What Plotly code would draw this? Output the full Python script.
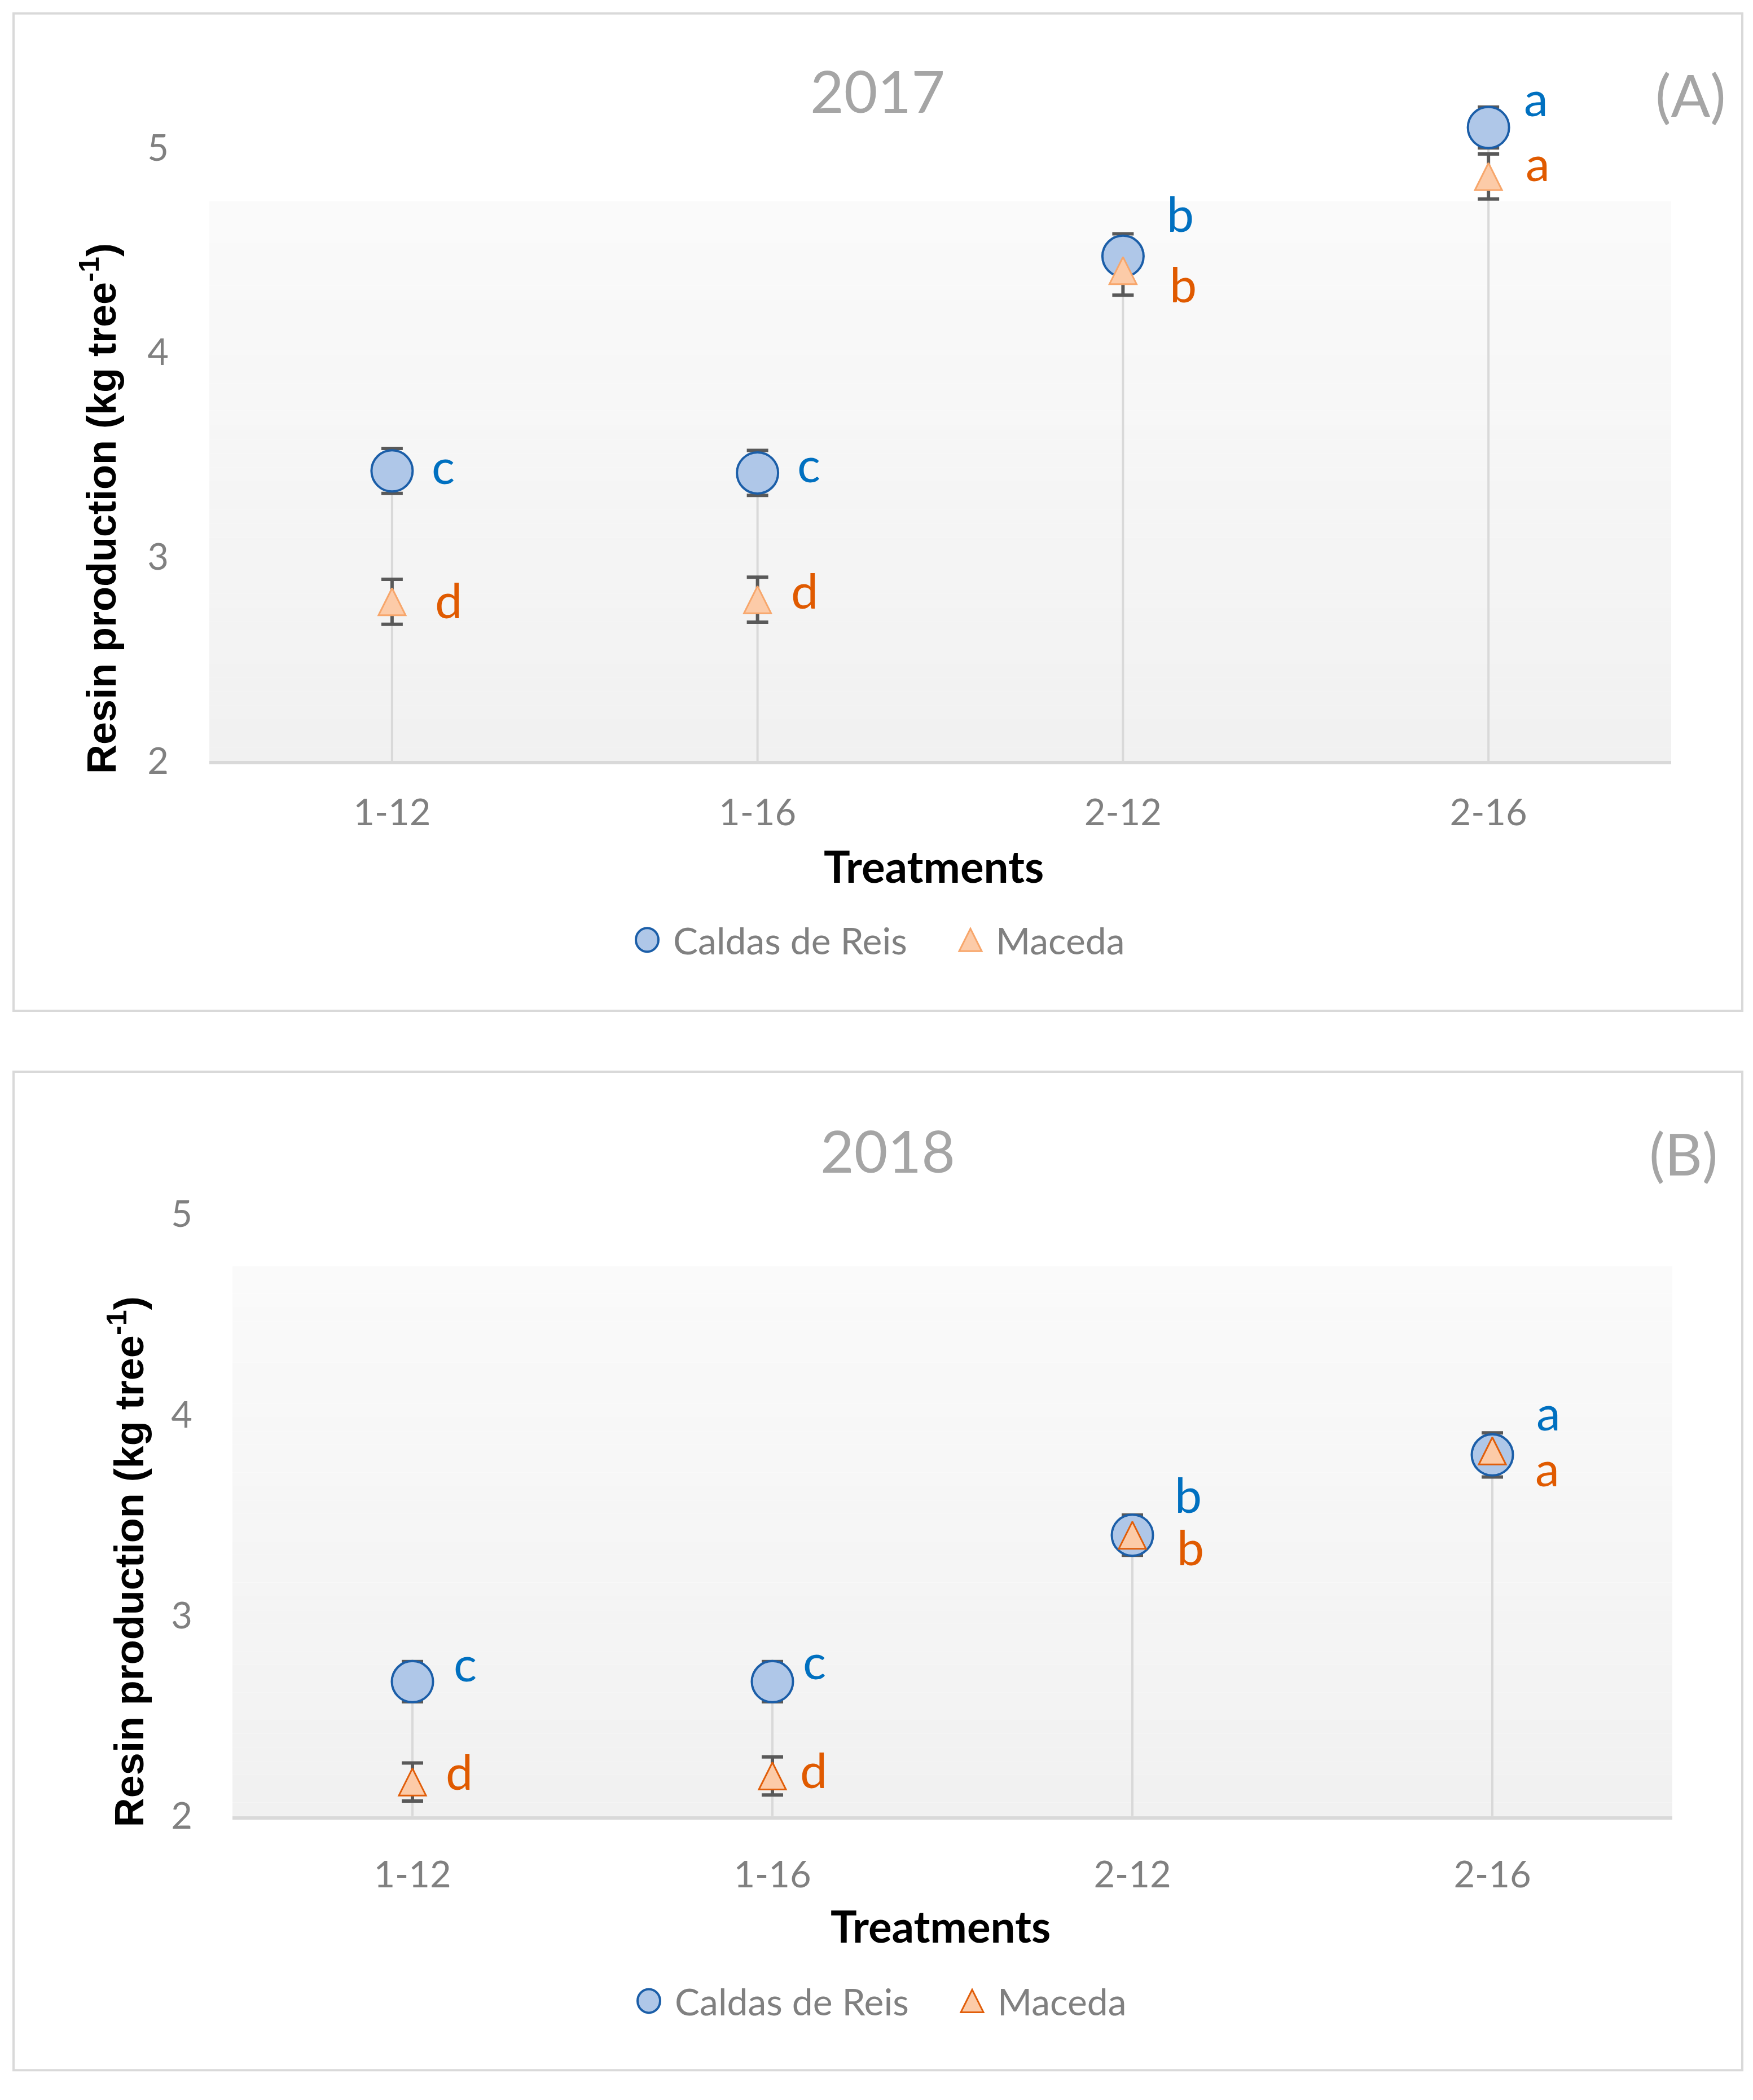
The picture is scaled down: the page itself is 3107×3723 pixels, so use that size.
import plotly.graph_objects as go

# ---------------- data ----------------
treatments = ["1-12", "1-16", "2-12", "2-16"]

caldas_2017 = [3.42, 3.41, 4.47, 5.10]
caldas_2017_err = [0.11, 0.11, 0.11, 0.10]
maceda_2017 = [2.78, 2.79, 4.40, 4.86]
maceda_2017_err = [0.11, 0.11, 0.12, 0.11]

caldas_2018 = [2.67, 2.67, 3.40, 3.80]
caldas_2018_err = [0.10, 0.10, 0.10, 0.11]
maceda_2018 = [2.17, 2.20, 3.40, 3.82]
maceda_2018_err = [0.095, 0.095, 0.05, 0.05]

caldas_letters_2017 = ["c", "c", "b", "a"]
maceda_letters_2017 = ["d", "d", "b", "a"]
caldas_letters_2018 = ["c", "c", "b", "a"]
maceda_letters_2018 = ["d", "d", "b", "a"]

y_ticks = [2, 3, 4, 5]
y_range = [2, 5.21]
series_names = ["Caldas de Reis", "Maceda"]
panel_titles = ["2017", "2018"]
panel_tags = ["(A)", "(B)"]
x_title = "Treatments"
y_title = "<b>Resin production (kg tree<sup>-1</sup>)</b>"

# ---------------- style ----------------
W, H = 3107, 3723


def px(x):
    return x / W


def py(y):
    return 1 - y / H


CAL_FILL = "#afc7e8"
CAL_LINE = "#1b5ea8"
MAC_FILL = "#fccba8"
MAC_LINE_TOP = "#f7a66b"
MAC_LINE_BOT = "#e15e0a"
BLUE_TXT = "#0070c0"
ORANGE_TXT = "#e05a00"
GRAY_TXT = "#808080"
TITLE_GRAY = "#a5a5a5"
ERR_COL = "#595959"
DROP_COL = "#d9d9d9"
BORDER_COL = "#d9d9d9"
FONT = "Lato"

panels = [
    dict(
        xa="x", ya="y", xdom=[px(371), px(2962)], ydom=[py(1363), py(188)],
        cal=caldas_2017, cal_err=caldas_2017_err, mac=maceda_2017, mac_err=maceda_2017_err,
        cal_lbl=caldas_letters_2017, mac_lbl=maceda_letters_2017,
        cal_off=[(91, 1), (91, -6), (102, -75), (84, -42)],
        mac_off=[(100, -2), (83, -16), (107, 25), (87, -14)],
        mac_line=MAC_LINE_TOP,
        title_xy=(1555, 162), tag_xy=(2996, 169),
        xtitle_xy=(1655, 1550), ytitle_xy=(175, 911),
        leg_y=1683, leg_x=(1147, 1191, 1720, 1763),
        border=(24, 24, 3088, 1810), ticklen_x=30, ticklen_y=58,
    ),
    dict(
        xa="x2", ya="y2", xdom=[px(412), px(2964)], ydom=[py(3252), py(2098.6)],
        cal=caldas_2018, cal_err=caldas_2018_err, mac=maceda_2018, mac_err=maceda_2018_err,
        cal_lbl=caldas_letters_2018, mac_lbl=maceda_letters_2018,
        cal_off=[(93, -23), (74, -27), (99, -71), (99, -66)],
        mac_off=[(83, -18), (73, -10), (103, 22), (97, 40)],
        mac_line=MAC_LINE_BOT,
        title_xy=(1573, 2059), tag_xy=(2984, 2065),
        xtitle_xy=(1667, 3448), ytitle_xy=(223, 2797),
        leg_y=3583, leg_x=(1150, 1194, 1723, 1766),
        border=(24, 1919, 3088, 3707), ticklen_x=42, ticklen_y=57,
    ),
]

fig = go.Figure()
annotations = []
shapes = []

for i, p in enumerate(panels):
    xa, ya = p["xa"], p["ya"]
    # drop lines from the axis floor up to the highest point of each treatment
    dx, dy = [], []
    for t, a, b in zip(treatments, p["cal"], p["mac"]):
        dx += [t, t, None]
        dy += [y_range[0], max(a, b), None]
    fig.add_trace(go.Scatter(x=dx, y=dy, mode="lines", xaxis=xa, yaxis=ya,
                             line=dict(color=DROP_COL, width=4),
                             hoverinfo="skip", showlegend=False))
    # error bars (drawn beneath all markers)
    for vals, errs in ((p["cal"], p["cal_err"]), (p["mac"], p["mac_err"])):
        fig.add_trace(go.Scatter(
            x=treatments, y=vals, mode="markers", xaxis=xa, yaxis=ya,
            marker=dict(size=2, opacity=0),
            error_y=dict(type="data", array=errs, visible=True, color=ERR_COL,
                         thickness=6, width=19),
            hoverinfo="skip", showlegend=False))
    # markers
    fig.add_trace(go.Scatter(
        x=treatments, y=p["cal"], mode="markers", xaxis=xa, yaxis=ya,
        name=series_names[0], showlegend=False,
        marker=dict(symbol="circle", size=73, color=CAL_FILL,
                    line=dict(color=CAL_LINE, width=4))))
    fig.add_trace(go.Scatter(
        x=treatments, y=p["mac"], mode="markers", xaxis=xa, yaxis=ya,
        name=series_names[1], showlegend=False,
        marker=dict(symbol="arrow-down", angle=180, standoff=24, size=48,
                    color=MAC_FILL, line=dict(color=p["mac_line"], width=3))))

    # letter labels
    for vals, lbls, offs, col in ((p["cal"], p["cal_lbl"], p["cal_off"], BLUE_TXT),
                                  (p["mac"], p["mac_lbl"], p["mac_off"], ORANGE_TXT)):
        for t, v, l, (ox, oy) in zip(treatments, vals, lbls, offs):
            corr = 11 if l in ("a", "c") else 2
            annotations.append(dict(
                x=t, y=v, xref=xa, yref=ya, text=l, showarrow=False,
                xanchor="center", yanchor="middle", xshift=ox, yshift=-oy + corr,
                font=dict(family=FONT, size=86, color=col)))

    # background gradient (light grey towards the floor)
    n = 40
    top_v = 4.74
    for k in range(n):
        v0 = y_range[0] + (top_v - y_range[0]) * k / n
        v1 = y_range[0] + (top_v - y_range[0]) * (k + 1) / n
        g = round(241 + (250 - 241) * k / (n - 1))
        shapes.append(dict(type="rect", xref=f"{xa} domain", yref=ya,
                           x0=0, x1=1, y0=v0, y1=v1, layer="below",
                           line=dict(width=0),
                           fillcolor=f"rgb({g},{g},{g})"))

    # panel border
    bx0, by0, bx1, by1 = p["border"]
    shapes.append(dict(type="rect", xref="paper", yref="paper",
                       x0=px(bx0), x1=px(bx1), y0=py(by1), y1=py(by0),
                       line=dict(color=BORDER_COL, width=4), fillcolor="rgba(0,0,0,0)"))

    # titles
    annotations.append(dict(x=px(p["title_xy"][0]), y=py(p["title_xy"][1]), xref="paper", yref="paper",
                            text=panel_titles[i], showarrow=False, xanchor="center", yanchor="middle",
                            font=dict(family=FONT, size=103, color=TITLE_GRAY)))
    annotations.append(dict(x=px(p["tag_xy"][0]), y=py(p["tag_xy"][1]), xref="paper", yref="paper",
                            text=panel_tags[i], showarrow=False, xanchor="center", yanchor="middle",
                            font=dict(family=FONT, size=103, color=TITLE_GRAY)))
    annotations.append(dict(x=px(p["xtitle_xy"][0]), y=py(p["xtitle_xy"][1]), xref="paper", yref="paper",
                            text=f"<b>{x_title}</b>", showarrow=False, xanchor="center", yanchor="middle",
                            font=dict(family=FONT, size=78, color="#000000")))
    annotations.append(dict(x=px(p["ytitle_xy"][0]), y=py(p["ytitle_xy"][1]), xref="paper", yref="paper",
                            text=y_title, showarrow=False, xanchor="center", yanchor="middle",
                            textangle=-90,
                            font=dict(family="Liberation Sans", size=72, color="#000000")))

    # legend (drawn by hand so the symbols keep their real size)
    cx, tx, trx, ttx = p["leg_x"]
    ly = py(p["leg_y"])
    shapes.append(dict(type="circle", xref="paper", yref="paper",
                       xsizemode="pixel", ysizemode="pixel",
                       xanchor=px(cx), yanchor=ly, x0=-20, x1=20, y0=-21, y1=21,
                       fillcolor=CAL_FILL, line=dict(color=CAL_LINE, width=4)))
    shapes.append(dict(type="path", xref="paper", yref="paper",
                       xsizemode="pixel", ysizemode="pixel",
                       xanchor=px(trx), yanchor=ly,
                       path="M-20,-20 L20,-20 L0,20 Z",
                       fillcolor=MAC_FILL, line=dict(color=p["mac_line"], width=3)))
    annotations.append(dict(x=px(tx), y=ly, xref="paper", yref="paper", text=series_names[0],
                            showarrow=False, xanchor="left", yanchor="middle",
                            font=dict(family=FONT, size=66, color=GRAY_TXT)))
    annotations.append(dict(x=px(ttx), y=ly, xref="paper", yref="paper", text=series_names[1],
                            showarrow=False, xanchor="left", yanchor="middle",
                            font=dict(family=FONT, size=66, color=GRAY_TXT)))

axis_common_x = dict(type="category", categoryorder="array", categoryarray=treatments,
                     range=[-0.5, len(treatments) - 0.5], showgrid=False, zeroline=False,
                     showline=True, linecolor="#d9d9d9", linewidth=6,
                     ticks="outside", tickcolor="rgba(0,0,0,0)",
                     tickfont=dict(family=FONT, size=65, color=GRAY_TXT))
axis_common_y = dict(range=y_range, tickvals=y_ticks, showgrid=False, zeroline=False,
                     showline=False, ticks="outside", tickcolor="rgba(0,0,0,0)",
                     tickfont=dict(family=FONT, size=65, color=GRAY_TXT))

fig.update_layout(
    width=W, height=H, autosize=False,
    margin=dict(l=0, r=0, t=0, b=0),
    paper_bgcolor="white", plot_bgcolor="rgba(0,0,0,0)",
    showlegend=False,
    xaxis=dict(axis_common_x, domain=panels[0]["xdom"], anchor="y", ticklen=panels[0]["ticklen_x"]),
    yaxis=dict(axis_common_y, domain=panels[0]["ydom"], anchor="x", ticklen=panels[0]["ticklen_y"]),
    xaxis2=dict(axis_common_x, domain=panels[1]["xdom"], anchor="y2", ticklen=panels[1]["ticklen_x"]),
    yaxis2=dict(axis_common_y, domain=panels[1]["ydom"], anchor="x2", ticklen=panels[1]["ticklen_y"]),
    annotations=annotations,
    shapes=shapes,
)

page_fix = (
    "var s=document.documentElement.style;s.margin='0';s.padding='0';s.overflow='hidden';"
    "var b=document.body.style;b.margin='0';b.padding='0';b.overflow='hidden';"
)
fig.write_html("out.html", post_script=page_fix,
               config={"displayModeBar": False, "responsive": False})
